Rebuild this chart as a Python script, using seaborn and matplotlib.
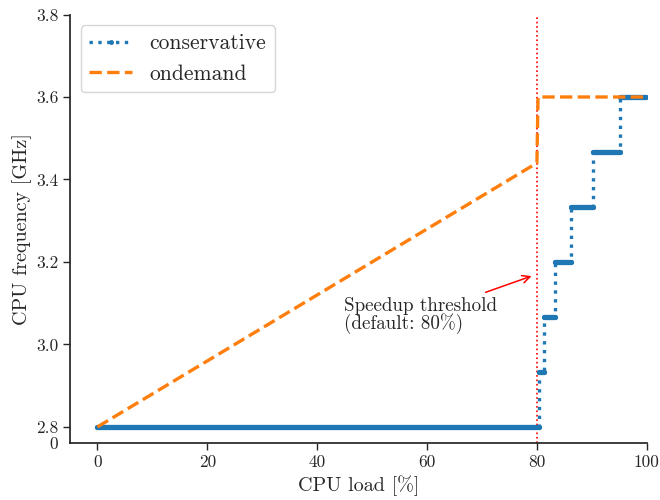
import matplotlib
matplotlib.use("Agg")
import matplotlib.pyplot as plt
import seaborn as sns

# ---- data ----
load_ondemand = [0, 80, 80.2, 100]
freq_ondemand = [2.8, 3.44, 3.6, 3.6]

cons_edges = [0, 80.3, 81.2, 83.3, 86.2, 90.2, 95.2, 100]
cons_levels = [2.8, 2.933, 3.067, 3.2, 3.333, 3.467, 3.6]

x_ticks = [0, 20, 40, 60, 80, 100]
y_ticks = [2.8, 3.0, 3.2, 3.4, 3.6, 3.8]
y_tick_labels = ["2.8", "3.0", "3.2", "3.4", "3.6", "3.8"]
threshold = 80

sns.set_theme(style="ticks")
plt.rcParams["font.family"] = ["cmr10", "DejaVu Serif"]
plt.rcParams["mathtext.fontset"] = "cm"
plt.rcParams["axes.formatter.use_mathtext"] = True
plt.rcParams["axes.unicode_minus"] = False

blue = "#1f77b4"
orange = "#ff7f0e"

fig = plt.figure(figsize=(6.6, 5.0), dpi=100)
ax = fig.add_axes([0.106, 0.114, 0.874, 0.857])

# step line for conservative governor
cx, cy = [], []
for i, lvl in enumerate(cons_levels):
    cx += [cons_edges[i], cons_edges[i + 1]]
    cy += [lvl, lvl]

for i, lvl in enumerate(cons_levels):
    ax.plot([cons_edges[i], cons_edges[i + 1]], [lvl, lvl], color=blue,
            lw=3.8, solid_capstyle="round", label="_nolegend_", zorder=2)

sns.lineplot(x=cx, y=cy, sort=False, estimator=None, ax=ax, color=blue,
             linestyle=":", lw=2.4, marker=".", markersize=6,
             markeredgewidth=0.5, markeredgecolor=blue, markerfacecolor=blue,
             label="conservative", zorder=2)
sns.lineplot(x=load_ondemand, y=freq_ondemand, sort=False, estimator=None,
             ax=ax, color=orange, linestyle="--", lw=2.4, label="ondemand",
             zorder=3)

ax.axvline(threshold, color="red", linestyle=":", lw=1.2, zorder=1)

ax.annotate("Speedup threshold\n(default: 80%)", xy=(79.5, 3.168),
            xytext=(58.9, 3.071), ha="center", va="center", ma="left",
            fontsize=13.7, linespacing=0.9,
            arrowprops=dict(arrowstyle="->", color="red", lw=1.1))

ax.set_xlim(-5, 100)
ax.set_ylim(2.761, 3.8)
ax.set_xticks(x_ticks)
ax.set_xticklabels([str(v) for v in x_ticks])
ax.set_yticks([2.761] + y_ticks)
ax.set_yticklabels(["0"] + y_tick_labels)
ax.yaxis.get_major_ticks()[0].tick1line.set_visible(False)
ax.tick_params(labelsize=12.5, length=5, width=1, color=".15")
ax.set_xlabel("CPU load [%]", fontsize=14.5, labelpad=4)
ax.set_ylabel("CPU frequency [GHz]", fontsize=14.5, labelpad=3)
sns.despine(ax=ax)

handles, labels = ax.get_legend_handles_labels()
leg = ax.legend(handles, labels, loc="upper left", fontsize=15.5,
                frameon=True, fancybox=True, numpoints=1)
leg.get_frame().set_edgecolor("#cccccc")

fig.savefig("out.png", dpi=100)
